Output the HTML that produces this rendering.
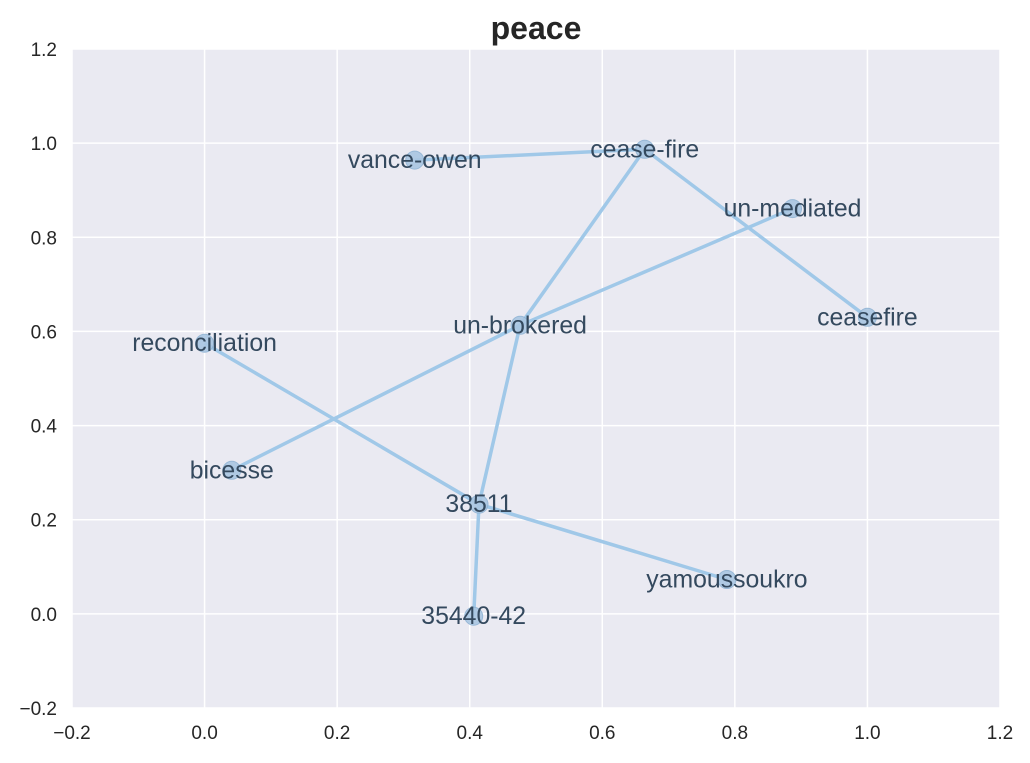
<!DOCTYPE html>
<html><head><meta charset="utf-8"><style>
body{margin:0;background:#fff}
svg text{font-family:"Liberation Sans",sans-serif}
</style></head><body>
<svg id="chart" width="1030" height="758" xmlns="http://www.w3.org/2000/svg"></svg>
<script>
const labels=["vance-owen","cease-fire","un-mediated","ceasefire","un-brokered","reconciliation","bicesse","38511","yamoussoukro","35440-42"];
const xs=[0.317,0.664,0.887,1.0,0.476,0.0,0.041,0.414,0.788,0.406];
const ys=[0.964,0.987,0.861,0.630,0.613,0.575,0.305,0.233,0.073,-0.005];
const edgeFrom=[0,1,1,4,4,4,5,7,7];
const edgeTo=[1,3,4,2,6,7,7,8,9];
const ticks=[-0.2,0.0,0.2,0.4,0.6,0.8,1.0,1.2];
const L=72,R=1000,T=49,B=708;
const sx=v=>L+(v+0.2)/1.4*(R-L);
const sy=v=>B-(v+0.2)/1.4*(B-T);
const svg=document.getElementById('chart');
const NS='http://www.w3.org/2000/svg';
function mk(t,a,p){const e=document.createElementNS(NS,t);for(const k in a)e.setAttribute(k,a[k]);(p||svg).appendChild(e);return e;}
const bg=mk('rect',{x:L,y:T,width:R-L,height:B-T,fill:'#eaeaf2'});


const fmt=v=>(v<0?'\u2212':'')+Math.abs(v).toFixed(1);
ticks.forEach(t=>{
  const gx=mk('line',{x1:sx(t),x2:sx(t),y1:T,y2:B,stroke:'#fff','stroke-width':1.5});
  
  
  const gy=mk('line',{x1:L,x2:R,y1:sy(t),y2:sy(t),stroke:'#fff','stroke-width':1.5});
  
  
  const tx=mk('text',{x:sx(t),y:739,'text-anchor':'middle','font-size':19,fill:'#262626'});
  tx.textContent=fmt(t);
  
  
  const ty=mk('text',{x:57,y:sy(t)+7,'text-anchor':'end','font-size':19,fill:'#262626'});
  ty.textContent=fmt(t);
  
  
});
edgeFrom.forEach((a,i)=>{
  const b=edgeTo[i];
  const l=mk('line',{x1:sx(xs[a]),y1:sy(ys[a]),x2:sx(xs[b]),y2:sy(ys[b]),stroke:'#a0c8e8','stroke-width':3.5});
  
  
});
labels.forEach((n,i)=>{
  const c=mk('circle',{cx:sx(xs[i]),cy:sy(ys[i]),r:9,fill:'#a9c6e2',stroke:'#8fb3d4','stroke-width':1,opacity:0.9});
  
  
});
labels.forEach((n,i)=>{
  const t=mk('text',{x:sx(xs[i]),y:sy(ys[i])+8,'text-anchor':'middle','font-size':24.8,fill:'#34495e'});
  t.textContent=n;
  
  
});
const title=mk('text',{x:536,y:39,'text-anchor':'middle','font-size':32,'font-weight':'bold',fill:'#262626'});
title.textContent='peace';


</script>
</body></html>
